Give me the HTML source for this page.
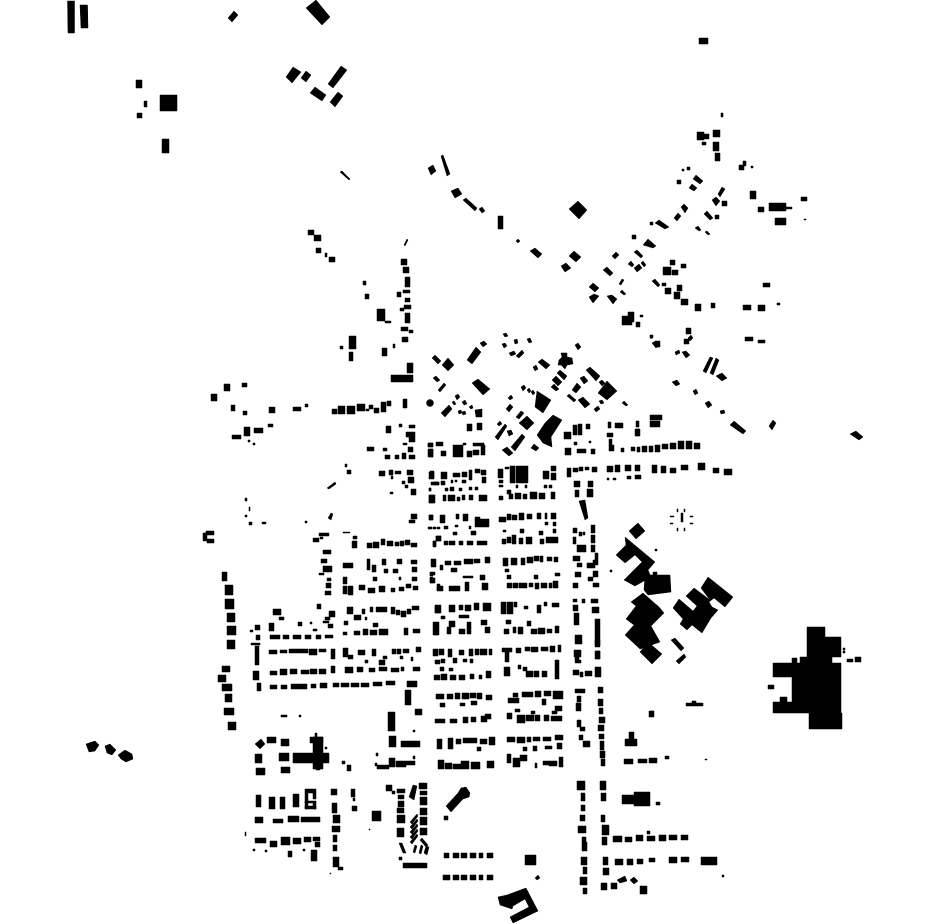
<!DOCTYPE html>
<html><head><meta charset="utf-8"><title>Figure-ground map</title>
<style>html,body{margin:0;padding:0;background:#fff}svg{display:block}</style></head>
<body>
<svg xmlns="http://www.w3.org/2000/svg" width="930" height="924" viewBox="0 0 930 924">
<rect width="930" height="924" fill="#fff"/>
<g fill="#000" stroke="#000" stroke-width="0.5" stroke-linejoin="round">
<!-- top left and isolated -->
<path d="M67.500 1H74.500V33H68zM80 5H87.500L88 28H81zM136 80H142V88H136zM144 101H147V107H144zM137 113H142V118H137zM160 95H177V111H160zM162 139H169V153H162zM699 38H708V44H699z"/>
<path d="M228 18L234 11L238 15L232 22zM316 0L330 17L322 25L306 8zM286 77L293 67L301 72L292 83zM301 78L306 71L311 75L306 82zM328 84L341 66L347 70L333 88zM310 93L315 87L326 95L322 101zM330 102L338 92L343 96L335 107zM86 744L95 741L99 745L95 751L89 752zM105 746L110 744L113 747L116 750L112 755L107 753zM118 755L125 750L132 754L133 759L126 762L121 759zM850 434L856 431L863 437L859 440z"/>
<!-- north road -->
<path d="M441 156L443 155L450 174L447 176zM428 168L433 165L436 171L431 175zM451 191L458 188L462 194L455 198zM463 200L466 198L477 208L475 211zM479 209L482 207L485 211L482 213zM498 216H503V229H498zM569 209L578 201L587 210L579 219zM516 241L518 239L520 241L518 243zM530 251L535 248L542 254L538 258zM569 256L574 251L581 257L576 262zM561 266L566 263L571 268L565 272zM589 287L593 283L599 288L595 292zM589 297L594 294L599 296L593 303zM607 296L612 295L617 299L613 304zM603 270L607 267L613 273L610 276zM619 284L622 279L624 280L621 285zM620 292L622 290L626 294L624 295zM612 256L616 252L619 255L615 259zM634 252L637 250L643 256L641 258zM628 264L631 261L634 265L632 267zM634 268L639 264L642 268L637 272zM641 263L643 261L646 265L644 267zM643 245L648 239L656 246L653 248zM655 223L659 220L669 227L665 229zM674 218L678 213L681 216L677 221zM681 207L684 204L688 208L685 213zM693 179L696 175L703 181L700 184zM689 188L692 184L697 188L694 191zM718 194L722 187L725 189L720 197zM712 200L716 197L720 201L716 206zM704 214L707 211L713 218L710 220zM695 228L698 226L701 230L699 231zM705 232L707 231L710 234L708 235zM652 281L655 279L660 285L658 287zM340 172L342 171L350 179L349 180zM404 245L407 239L408 240L405 246z"/>
<path d="M721 113H723V117H721zM697 132H704V140H697zM703 134H709V139H703zM713 130H720V137H713zM702 142H706V145H702zM713 142H719V151H713zM715 153H720V161H715zM739 165H744V170H739zM743 161H746V166H743zM751 166H753V168H751zM677 180H681V184H677zM687 167H690V170H687zM682 169H684V171H682zM722 201H727V206H722zM715 215H719V219H715zM650 222H653V225H650zM632 235H636V239H632zM670 260H675V265H670zM681 264H686V268H681zM663 267H671V275H663zM672 270H678V275H672zM665 288H671V294H665zM662 283H666V286H662zM677 285H682V291H677zM674 292H680V299H674zM681 299H688V305H681zM695 304H701V311H695zM711 303H715V308H711zM763 283H770V287H763zM743 305H751V310H743zM758 305H765V311H758zM777 303H780V305H777zM745 337H753V341H745zM758 340H765V343H758zM686 328H691V334H686zM684 339H689V344H684zM655 341H660V347H655zM650 335H653V338H650zM750 191H756V199H750zM758 207H764V212H758zM769 203H786V211H769zM786 207H792V209H786zM775 218H786V225H775zM801 197H807V201H801zM804 219H806V220H804zM622 316H632V325H622zM628 312H634V322H628zM636 322H640V327H636zM640 315H643V317H640z"/>
<!-- west strip -->
<path d="M308 230H314V235H308zM314 235H321V241H314zM316 248H321V253H316zM325 253H327V257H325zM329 257H335V262H329zM401 259H407V265H401zM403 267H409V273H403zM405 277H410V287H405zM403 290H410V293H403zM397 292H401V297H397zM405 298H410V302H405zM404 305H411V309H404zM400 308H404V311H400zM405 313H410V323H405zM401 327H408V331H401zM409 330H413V333H409zM402 337H408V342H402zM393 344H395V348H393zM382 348H387V356H382zM377 309H385V321H377zM385 321H391V323H385zM363 281H366V285H363zM365 294H369V299H365zM349 336H356V349H349zM340 346H343V349H340zM349 352H353V361H349zM407 363H413V373H407zM391 375H413V382H391zM403 399H407V408H403zM332 409H337V414H332zM338 406H345V414H338zM347 406H355V414H347zM357 404H365V411H357zM366 409H369V411H366zM369 405H373V409H369zM374 408H379V413H374zM381 402H386V412H381zM387 401H391V406H387zM211 394H217V401H211zM224 384H230V391H224zM242 383H247V387H242zM231 405H235V411H231zM243 411H247V415H243zM269 407H275V413H269zM293 407H301V411H293zM305 404H308V407H305zM232 435H241V439H232zM244 427H250V436H244zM254 428H263V433H254zM268 424H273V427H268zM248 440H250V442H248zM253 443H255V445H253z"/>
<!-- north cluster polys -->
<path d="M432 358L435 355L441 361L438 364zM442 365L448 358L454 365L448 371zM467 360L476 347L481 352L472 364zM480 343L484 341L487 344L483 347zM503 334L506 333L508 336L505 337zM502 344L505 343L507 346L504 348zM514 340L517 339L518 343L515 344zM509 353L514 351L516 354L511 356zM516 356L522 350L524 353L519 358zM527 339L530 338L532 342L529 343zM575 345L578 343L581 347L578 350zM559 360L562 357L561 353L567 353L567 357L572 358L573 364L567 365L565 369L561 365L558 365zM538 362L542 359L550 365L546 369zM533 367L536 365L538 369L535 371zM557 373L560 370L567 376L564 380zM552 380L556 376L562 382L558 386zM551 387L554 384L559 389L556 391zM586 370L590 367L600 376L596 381zM580 378L584 376L588 381L584 384zM599 382L602 380L605 383L602 386zM598 393L607 381L617 391L607 400zM572 390L577 383L581 387L576 393zM567 396L569 394L576 400L574 402zM578 400L583 397L590 404L585 408zM599 401L602 400L604 403L601 404zM594 409L598 406L600 409L596 412zM622 403L624 401L628 405L626 406zM472 383L478 379L490 389L483 395zM433 378L436 376L440 380L437 382zM438 390L444 383L446 385L440 392zM441 413L449 405L452 409L445 417zM452 402L454 401L456 404L454 405zM455 396L458 394L460 397L457 400zM462 402L465 400L467 404L464 405zM469 407L472 405L473 408L471 409zM458 411L461 410L462 413L459 414zM462 412L465 411L466 414L463 415zM475 410L482 409L482 417L476 417zM495 437L505 424L507 426L498 440zM497 424L500 421L502 424L499 426zM519 423L527 416L534 423L527 430zM506 409L510 404L513 407L509 412zM508 398L511 395L513 398L510 400zM516 417L521 411L524 413L519 419zM521 387L524 385L526 388L523 391zM527 390L529 388L531 391L529 393zM531 392L533 390L535 393L533 395zM537 391L551 400L543 413L535 407zM507 431L511 430L513 434L509 436zM511 447L522 434L525 437L515 451zM502 450L507 447L513 453L509 456zM531 448L534 444L539 448L536 451zM553 415L562 420L551 437L552 447L543 443L537 435L545 423z"/>
<path d="M430 399.500a3.500 3.500 0 1 0 .01 0zM467 424H472V431H467zM477 423H482V430H477zM650 415H662V420H650zM650 421H660V427H650zM636 421H639V427H636zM636 429H639V436H636zM615 423H620V428H615zM608 422H611V428H608z"/>
<path d="M650 335L653 337L651 339zM703 371L710 357L713 358L706 373zM710 373L716 358L719 360L713 375zM716 376L722 373L727 378L722 381zM682 352L686 351L690 355L686 358zM672 382L677 380L680 384L676 386zM693 391L696 389L698 393L695 395zM705 403L709 401L712 405L708 408zM720 411L724 410L725 413L721 414zM730 425L734 421L746 431L743 434zM769 426L773 420L776 423L772 430zM652 343L656 341L660 345L656 348zM675 352L679 350L680 353L676 355zM688 338L691 335L693 338L690 341z"/>
<!-- central blocks -->
<path d="M386 426H391V433H386zM399 424H402V427H399zM409 425H415V428H409zM406 432H415V437H406zM409 437H415V442H409zM367 447H374V451H367zM383 448H387V451H383zM408 447H413V452H408zM403 443H407V445H403zM385 455H390V459H385zM395 455H399V459H395zM402 453H406V459H402zM409 455H415V459H409zM428 443H433V447H428zM436 442H443V446H436zM429 449H433V457H429zM345 464H347V467H345zM347 470H351V474H347zM379 471H385V476H379zM389 470H393V475H389zM395 471H401V474H395zM407 470H413V475H407zM391 476H393V479H391zM408 477H414V483H408zM402 481H405V484H402zM405 485H408V488H405zM411 489H416V495H411zM390 492H393V494H390zM430 471H434V478H430zM433 482H439V485H433zM429 488H431V491H429zM429 495H434V503H429zM429 515H433V520H429zM245 498H247V501H245zM249 507H250V511H249zM245 515H247V517H245zM249 522H252V525H249zM262 522H266V524H262zM305 521H307V523H305zM411 514H417V519H411zM409 520H415V523H409zM429 527H432V529H429zM434 527H436V529H434z"/>
<path d="M327 488L335 482L336 484L329 489zM328 518L331 513L333 514L331 520zM203 533H207V541H203zM206 531H214V535H206zM207 539H214V543H207zM579 501L585 500L588 518L585 520z"/>
<path d="M319 533H329V536H319zM313 538H319V542H313zM320 537H323V539H320zM343 532H350V533H343zM353 536H357V539H353zM352 541H357V548H352zM367 543H372V548H367zM373 542H379V548H373zM381 539H385V545H381zM387 541H393V546H387zM395 542H399V546H395zM400 541H404V546H400zM405 540H410V545H405zM411 543H417V547H411zM433 541H436V547H433zM436 536H441V541H436zM323 550H331V554H323zM321 559H327V563H321zM323 566H332V572H323zM319 573H324V575H319zM327 578H331V581H327zM326 583H331V588H326zM325 591H331V595H325zM343 563H353V568H343zM367 559H370V570H367zM372 565H376V572H372zM382 559H386V565H382zM384 569H388V573H384zM393 569H398V573H393zM397 559H402V564H397zM399 577H401V580H399zM411 560H417V564H411zM412 567H417V572H412zM412 577H417V581H412zM343 577H347V584H343zM343 586H347V594H343zM348 586H353V595H348zM359 585H365V590H359zM368 588H375V593H368zM379 586H385V592H379zM391 588H395V592H391zM399 587H404V591H399zM406 584H411V588H406zM413 586H418V590H413zM373 577H377V581H373zM430 572H435V575H430zM430 577H433V583H430zM437 584H440V590H437z"/>
<path d="M222 572H227V581H222zM225 585H233V595H225zM225 599H234V609H225zM227 613H235V622H227zM227 626H236V635H227zM227 640H235V649H227zM222 666H230V672H222zM218 675H226V682H218zM222 684H232V691H222zM225 694H232V702H225zM224 708H234V715H224zM228 722H236V730H228zM317 604H321V609H317zM273 609H281V615H273zM279 617H284V620H279zM347 607H353V614H347zM354 615H361V620H354zM362 609H365V614H362zM370 607H373V612H370zM376 607H387V612H376zM391 607H395V614H391zM396 610H400V615H396zM401 611H406V617H401zM407 609H411V614H407zM412 606H419V610H412zM435 606H440V613H435zM329 611H335V617H329zM325 617H330V620H325zM328 624H333V628H328zM323 621H329V623H323zM344 621H348V625H344zM343 632H347V635H343zM354 631H360V635H354zM363 629H368V635H363zM370 630H377V635H370zM379 629H388V635H379zM373 623H378V627H373zM365 617H367V620H365zM404 628H408V635H404zM413 629H420V633H413zM433 622H439V635H433zM255 625H260V630H255zM250 630H253V632H250zM269 623H274V631H269zM298 622H302V626H298zM313 629H317V631H313zM310 622H312V624H310zM256 635H260V640H256zM270 635H280V639H270zM283 635H289V639H283zM293 635H301V639H293zM305 635H311V639H305zM316 635H321V639H316zM325 635H333V638H325z"/>
<path d="M251 643H260V645H251zM255 646H259V653H255zM255 653H259V665H255zM253 671H259V680H253zM257 683H261V691H257zM269 650H277V654H269zM280 650H287V653H280zM289 649H299V653H289zM299 649H308V653H299zM309 649H317V655H309zM319 649H326V652H319zM331 649H335V659H331zM343 648H348V657H343zM348 655H353V659H348zM358 650H365V655H358zM372 649H376V656H372zM392 649H396V654H392zM397 649H401V654H397zM403 649H409V653H403zM416 647H421V652H416zM400 656H403V659H400zM411 657H413V661H411zM383 656H387V659H383zM379 660H385V665H379zM365 660H368V663H365zM270 671H277V675H270zM280 669H287V675H280zM290 669H297V674H290zM301 670H309V674H301zM310 669H317V674H310zM319 669H326V674H319zM331 666H335V673H331zM345 667H353V673H345zM357 667H363V672H357zM369 668H375V672H369zM379 667H387V671H379zM391 668H399V672H391zM401 667H404V671H401zM413 667H420V671H413zM270 685H277V689H270zM281 685H287V689H281zM291 684H299V689H291zM299 684H307V689H299zM311 684H316V688H311zM320 683H327V688H320zM333 683H339V687H333zM341 683H349V687H341zM351 683H359V687H351zM361 683H369V687H361zM373 682H382V686H373zM386 681H395V685H386zM407 681H417V687H407zM405 690H411V705H405zM415 709H422V715H415zM388 712H395V731H388zM389 736H396V747H389zM401 741H420V747H401zM281 715H287V717H281zM299 715H301V717H299zM413 730H415V732H413zM376 753H378V756H376zM375 763H377V766H375zM377 765H383V769H377zM383 765H389V769H383zM389 758H395V767H389zM396 761H406V767H396zM406 761H415V765H406zM413 756H415V759H413zM342 761H345V764H342zM347 765H351V771H347zM325 747H327V749H325z"/>
<!-- civic west block -->
<path d="M255 744L261 739L265 744L260 749zM267 737H276V743H267zM281 739H289V746H281zM255 754H262V763H255zM279 753H289V761H279zM256 768H265V775H256zM281 767H290V773H281zM293 753H329V763H293zM313 737H323V769H313zM315 733H317V737H315zM310 737H323V743H310zM316 763H320V770H316z"/>
<path d="M428 449H433V457H428zM428 443H433V447H428zM453 445H463V457H453zM441 451H446V456H441zM463 443H466V445H463zM467 451H472V457H467zM473 450H479V455H473zM481 445H485V455H481zM473 443H484V446H473z"/>
<path d="M429 472H434V479H429zM441 472H447V479H441zM453 473H460V477H453zM462 472H467V477H462zM469 470H472V480H469zM475 469H480V473H475zM481 470H486V475H481zM482 477H486V483H482zM431 482H439V485H431zM441 481H445V485H441zM451 480H453V483H451zM455 480H457V482H455zM462 480H466V483H462zM429 488H431V491H429zM445 488H448V491H445zM450 487H454V491H450zM459 488H462V491H459zM469 487H472V490H469zM475 487H478V490H475zM429 495H435V503H429zM443 495H446V501H443zM448 495H455V501H448zM457 497H460V501H457zM462 495H465V500H462zM469 495H473V500H469zM479 495H487V501H479z"/>
<path d="M510 466H515V483H510zM516 466H528V483H516zM498 469H503V478H498zM505 467H509V469H505zM499 480H503V483H499zM543 471H549V479H543zM551 466H556V471H551zM551 473H556V480H551zM499 485H503V487H499zM516 485H518V488H516zM525 485H527V488H525zM544 485H547V488H544zM549 485H552V488H549zM507 490H511V494H507zM499 496H503V500H499zM509 494H513V499H509zM515 493H521V499H515zM523 494H527V499H523zM530 492H537V499H530zM539 493H545V499H539zM551 492H555V499H551z"/>
<path d="M567 468H571V477H567zM573 468H578V472H573zM579 467H583V471H579zM585 467H589V470H585zM592 467H597V472H592zM574 481H580V487H574zM575 490H579V497H575zM588 481H593V487H588zM587 489H593V497H587z"/>
<path d="M607 466H613V472H607zM615 465H620V472H615zM625 465H631V471H625zM635 465H640V471H635zM652 465H657V473H652zM607 478H609V480H607zM613 478H616V480H613zM627 476H631V479H627zM635 475H641V479H635zM661 466H666V473H661zM670 468H676V473H670zM681 465H688V470H681zM698 463H705V470H698zM713 468H719V473H713zM724 469H732V475H724zM607 433H613V437H607zM619 423H623V428H619zM635 429H640V436H635zM609 439H612V451H609zM612 445H614V451H612zM621 448H624V452H621zM631 447H635V451H631zM637 447H640V452H637zM642 446H647V452H642zM649 446H653V452H649zM655 445H660V452H655zM662 444H668V449H662zM670 443H676V449H670zM678 441H684V449H678zM686 441H692V449H686zM694 443H700V449H694z"/>
<path d="M564 432H571V439H564zM573 425H577V435H573zM578 424H582V435H578zM586 424H590V429H586zM565 448H571V455H565zM577 449H586V453H577zM591 449H595V454H591zM574 442H577V445H574zM589 441H591V443H589z"/>
<path d="M429 515H433V520H429zM440 515H445V523H440zM456 514H459V519H456zM463 514H468V521H463zM475 519H489V527H475zM475 517H480V520H475zM428 527H431V529H428zM433 527H435V529H433zM437 527H440V529H437zM444 526H448V529H444zM455 525H458V527H455zM469 526H471V529H469zM471 531H476V535H471zM453 532H457V535H453zM436 536H441V541H436zM433 541H436V546H433zM444 541H448V545H444zM449 541H455V545H449zM459 541H463V545H459zM467 541H473V545H467zM477 541H487V545H477z"/>
<path d="M499 517H506V522H499zM507 514H511V520H507zM512 515H517V520H512zM519 513H524V520H519zM527 514H532V519H527zM537 513H541V519H537zM545 513H547V519H545zM551 513H556V519H551zM503 530H506V532H503zM520 529H524V533H520zM539 531H543V535H539zM545 522H548V525H545zM553 522H556V526H553zM553 529H556V533H553zM502 539H506V544H502zM507 537H511V543H507zM512 535H516V544H512zM519 538H523V544H519zM526 537H532V544H526zM540 539H544V544H540zM546 537H551V543H546zM551 537H558V543H551z"/>
<path d="M573 528H577V533H573zM591 525H595V533H591zM579 532H582V536H579zM573 537H576V544H573zM591 535H595V543H591zM583 532H585V535H583zM577 545H586V552H577zM591 545H595V552H591zM573 556H580V561H573zM577 563H582V567H577zM595 553H598V560H595zM587 563H595V568H587zM593 560H598V565H593zM575 572H581V577H575zM573 583H578V588H573zM593 571H598V577H593zM588 577H593V581H588zM593 583H599V587H593z"/>
<path d="M431 559H436V567H431zM440 565H443V570H440zM445 561H451V565H445zM454 561H461V565H454zM464 559H473V564H464zM474 559H480V563H474zM485 557H490V563H485zM451 568H457V572H451zM480 575H485V580H480zM463 576H473V578H463zM430 573H433V576H430zM430 578H435V583H430zM437 586H443V591H437zM449 586H460V591H449zM465 582H469V591H465zM482 583H488V590H482z"/>
<path d="M503 558H508V566H503zM511 558H517V565H511zM521 558H525V565H521zM527 557H533V563H527zM534 556H539V561H534zM540 556H543V562H540zM547 557H552V561H547zM554 557H558V562H554zM505 569H509V572H505zM507 575H511V579H507zM534 575H538V579H534zM555 573H560V576H555zM507 583H512V588H507zM513 583H518V588H513zM519 583H527V588H519zM529 583H533V587H529zM535 583H539V589H535zM541 583H547V588H541zM549 583H552V588H549zM553 581H558V588H553z"/>
<path d="M573 599H577V602H573zM582 599H585V603H582zM591 599H598V603H591zM573 605H578V611H573zM592 607H599V613H592zM574 613H579V625H574zM595 619H600V626H595zM575 635H582V644H575zM595 626H600V637H595zM595 637H600V645H595zM595 651H600V659H595zM574 650H581V657H574z"/>
<path d="M435 605H441V613H435zM449 605H455V612H449zM459 605H463V610H459zM465 605H471V611H465zM474 603H479V610H474zM483 603H491V611H483zM441 616H445V619H441zM459 615H469V618H459zM449 621H455V627H449zM481 620H487V625H481zM434 627H438V635H434zM447 627H451V634H447zM459 629H465V634H459zM467 622H471V634H467zM485 627H490V633H485z"/>
<path d="M501 602H506V614H501zM507 602H513V614H507zM514 602H517V607H514zM524 606H528V609H524zM537 605H541V613H537zM544 602H547V606H544zM552 603H559V607H552zM506 620H511V624H506zM527 621H531V626H527zM504 629H509V634H504zM513 627H516V633H513zM518 627H523V634H518zM531 629H537V634H531zM538 628H545V634H538zM547 629H552V633H547zM555 626H559V633H555z"/>
<path d="M433 649H438V656H433zM439 649H444V655H439zM448 649H452V657H448zM459 650H464V655H459zM469 649H473V656H469zM475 649H479V655H475zM480 649H487V655H480zM489 649H492V655H489zM435 660H440V664H435zM441 659H445V663H441zM453 658H457V663H453zM463 659H467V662H463zM470 659H473V663H470zM440 667H444V671H440zM449 668H453V671H449zM434 675H440V680H434zM441 674H447V680H441zM450 675H456V680H450zM459 675H465V680H459zM470 674H474V679H470zM479 675H482V679H479zM486 671H491V678H486z"/>
<path d="M502 648H512V652H502zM505 652H509V662H505zM516 648H521V653H516zM525 647H530V651H525zM531 647H538V652H531zM541 647H548V651H541zM550 646H555V652H550zM558 645H561V652H558zM555 660H559V671H555zM504 667H510V676H504zM518 665H521V669H518zM523 667H527V671H523zM526 671H533V677H526zM534 671H539V677H534zM542 671H547V677H542zM555 671H559V679H555z"/>
<path d="M575 652H579V660H575zM595 640H600V647H595zM596 651H600V659H596zM575 660H581V663H575zM573 670H579V675H573zM580 672H583V677H580zM585 671H592V676H585zM595 667H601V677H595z"/>
<path d="M436 694H444V699H436zM447 694H453V699H447zM455 693H460V699H455zM462 693H469V699H462zM470 693H476V698H470zM477 693H482V699H477zM486 695H492V700H486zM440 703H445V707H440zM460 703H465V706H460zM471 701H477V705H471zM435 719H445V723H435zM450 719H457V723H450zM463 717H468V723H463zM471 717H476V722H471zM481 716H487V722H481zM485 714H491V719H485z"/>
<path d="M508 698H519V703H508zM513 693H518V697H513zM522 692H533V697H522zM535 691H541V697H535zM544 691H551V696H544zM553 691H563V699H553zM542 699H546V705H542zM555 706H562V711H555zM552 711H557V714H552zM507 713H512V719H507zM517 715H525V723H517zM526 715H534V721H526zM535 715H540V721H535zM544 715H549V721H544zM551 716H562V721H551zM515 709H520V712H515zM531 711H535V714H531z"/>
<path d="M575 689H585V693H575zM577 696H581V702H577zM598 687H603V693H598zM598 699H603V706H598zM576 703H581V711H576zM599 708H603V714H599zM577 720H581V727H577zM580 727H585V731H580zM599 717H605V723H599zM598 725H604V731H598zM579 735H583V740H579zM599 734H604V739H599zM583 741H590V747H583zM600 741H604V750H600zM600 751H605V758H600zM601 759H605V766H601zM624 759H633V764H624zM638 759H647V763H638zM649 758H657V763H649zM665 756H669V759H665zM705 759H707V760H705zM625 739H637V746H625zM629 732H634V739H629zM650 711H653V716H650z"/>
<path d="M437 739H442V749H437zM448 738H453V749H448zM456 739H461V744H456zM463 738H470V743H463zM470 738H477V743H470zM480 739H487V744H480zM489 737H495V745H489zM438 760H444V769H438zM445 763H452V769H445zM453 764H461V769H453zM461 761H469V769H461zM471 762H480V769H471zM487 761H494V768H487zM477 747H481V751H477zM507 737H515V742H507zM517 737H525V743H517zM527 737H531V742H527zM533 737H540V741H533zM543 737H551V741H543zM555 735H563V740H555zM557 743H562V749H557zM507 754H511V763H507zM513 758H520V767H513zM520 755H527V761H520zM535 763H537V768H535zM543 761H549V765H543zM549 761H557V766H549zM559 757H563V767H559zM523 747H527V751H523zM533 746H537V751H533zM545 746H552V749H545z"/>
<!-- south -->
<path d="M577 781H585V790H577zM600 781H606V790H600zM581 793H585V801H581zM601 793H606V801H601zM581 805H585V811H581zM580 815H585V821H580zM601 815H605V822H601zM578 826H586V833H578zM602 825H609V835H602zM582 837H586V842H582zM582 842H587V851H582zM602 837H607V845H602zM581 857H587V865H581zM603 857H608V865H603zM583 867H587V874H583zM603 868H609V875H603zM580 877H587V885H580zM583 888H587V894H583zM601 883H607V890H601zM611 883H617V889H611zM640 886H647V894H640zM613 836H622V842H613zM625 837H632V842H625zM636 835H643V841H636zM647 836H655V841H647zM659 835H666V841H659zM669 835H677V840H669zM681 835H688V840H681zM647 831H650V834H647zM615 859H623V865H615zM627 859H633V865H627zM637 859H643V864H637zM649 858H655V862H649zM669 857H677V863H669zM681 857H689V862H681zM701 857H717V865H701zM722 875H724V877H722zM622 795H634V804H622zM634 792H650V806H634zM656 802H660V805H656z"/>
<path d="M617 880L625 876L627 881L620 883zM630 880L634 877L638 881L634 884z"/>
<path d="M444 853H449V858H444zM453 853H459V858H453zM461 853H467V858H461zM470 853H476V858H470zM479 853H483V858H479zM487 853H493V858H487zM443 875H450V880H443zM453 875H459V880H453zM461 875H467V880H461zM470 875H476V880H470zM479 875H483V880H479zM487 875H493V880H487zM525 855H536V865H525zM444 816H448V820H444z"/>
<path d="M446 806L458 793L461 788L466 787L470 793L469 797L463 799L451 812zM535 878L538 875L540 878L537 880zM498 897L507 895L526 888L538 911L513 923L510 917L529 907L525 899L513 906L512 909L500 905z"/>
<path d="M256 795H261V807H256zM269 797H275V809H269zM280 797H285V809H280zM293 794H299V807H293zM305 789H316V793H305zM305 793H308V809H305zM313 793H316V799H313zM305 801H316V803H305zM313 803H316V809H313zM305 806H316V809H305zM255 817H263V823H255zM273 819H283V823H273zM288 816H299V822H288zM301 817H320V822H301zM255 838H266V843H255zM270 841H277V847H270zM281 837H290V845H281zM293 838H301V844H293zM304 837H311V842H304zM313 837H320V841H313zM315 842H320V847H315zM288 851H292V857H288zM311 850H317V861H311zM253 849H255V851H253zM265 850H267V852H265zM303 849H305V851H303zM245 832H246V836H245zM331 789H337V795H331zM332 803H337V813H332zM333 815H340V823H333zM332 826H340V832H332zM333 835H337V842H333zM333 845H337V851H333zM333 857H339V867H333zM338 867H343V870H338zM351 789H355V797H351zM352 806H357V811H352zM353 798H355V801H353zM372 811H381V821H372zM369 829H370V830H369zM330 873H331V874H330zM386 785H392V791H386zM392 791H395V794H392zM397 789H405V793H397zM398 795H404V799H398zM398 801H404V807H398zM397 808H404V813H397zM397 815H405V823H397zM397 828H404V837H397zM399 857H402V860H399zM419 783H427V789H419zM420 791H427V795H420zM420 797H427V805H420zM420 808H427V815H420zM420 817H427V825H420zM420 828H427V835H420zM403 863H427V868H403z"/>
<path d="M409 797L413 785L417 786L414 800zM410 822L417 814L418 816L412 824zM410 827L417 819L418 821L412 829zM410 832L417 824L418 826L412 834zM410 837L417 829L418 831L412 839zM410 842L417 834L418 836L412 844zM399 843L402 843L406 853L403 853zM420 840L422 838L428 845L426 847zM413 852L415 845L417 846L415 853zM419 853L421 845L423 846L421 854zM424 853L426 846L429 847L427 855z"/>
<!-- hospital -->
<path d="M629 531L638 523L645 531L636 539zM625 537L655 562L648 570L651 577L635 586L624 580L642 562L635 555L625 563L616 555L626 545zM645 575L670 575L671 592L648 595L644 590zM653 572H657V577H653zM643 593L659 607L664 613L651 626L660 642L640 649L625 635L634 625L626 619L636 606L631 602zM640 652L648 642L662 654L652 664zM708 577L733 597L725 607L714 598L709 602L712 607L718 610L711 618L702 633L692 625L687 630L680 624L683 619L673 608L679 599L693 611L697 606L686 596L694 588L710 600L701 588zM671 640L675 638L684 648L681 651zM676 661L684 654L686 657L679 664z"/>
<!-- big factory -->
<path d="M807 627H825V657H807zM825 637H841V657H825zM800 657H832V663H800zM792 658H797V664H792zM773 663H841V677H773zM792 677H841V713H792zM773 702H792V713H773zM780 697H787V702H780zM809 713H842V729H809zM768 685H774V689H768zM843 648H845V650H843zM843 651H845V653H843zM847 659H853V662H847zM855 657H861V662H855zM649 711H654V717H649zM686 703H703V706H686zM692 701H696V704H692zM610 570H612V572H610zM655 549H657V551H655z"/>
<!-- star -->
<path d="M681 513H683V522H681zM677 509H678V512H677zM684 509H685V512H684zM670 516H674V517H670zM690 516H693V517H690zM670 523H673V524H670zM690 523H693V524H690zM677 528H678V531H677zM684 528H685V531H684z"/>
</g>
</svg>
</body></html>
